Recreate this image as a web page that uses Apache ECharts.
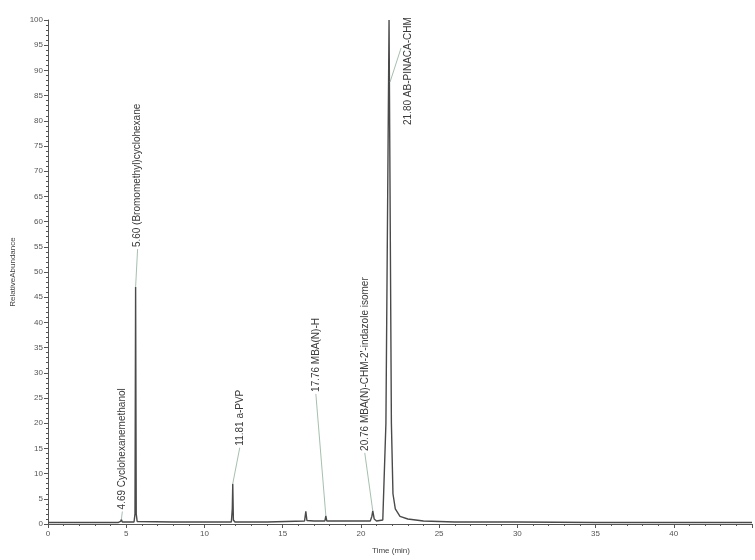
<!DOCTYPE html>
<html>
<head>
<meta charset="utf-8">
<script src="https://cdn.jsdelivr.net/npm/echarts@6/dist/echarts.min.js"></script>
<style>
html,body{margin:0;padding:0;background:#fff;}
#chart{width:755px;height:560px;}
</style>
</head>
<body>
<div id="chart"></div>
<script>
// Chromatogram trace (time in min, relative abundance in %)
const timeMin = [0, 2.0, 4.5, 4.64, 4.69, 4.75, 5.5, 5.56, 5.60, 5.64, 5.70, 8.0, 10.2, 10.3, 10.4, 11.72, 11.78, 11.81, 11.85, 11.95, 14.0, 16.40, 16.48, 16.55, 17.0, 17.70, 17.76, 17.82, 19.0, 20.60, 20.70, 20.76, 20.85, 21.00, 21.40, 21.60, 21.80, 21.95, 22.05, 22.20, 22.50, 23.0, 24.0, 26.0, 30.0, 35.0, 40.0, 45.0];
const abundance = [0.3, 0.3, 0.3, 0.5, 0.9, 0.4, 0.4, 2.0, 47.0, 2.0, 0.5, 0.4, 0.4, 0.7, 0.4, 0.4, 3.0, 8.0, 0.8, 0.4, 0.4, 0.6, 2.5, 0.7, 0.6, 0.6, 1.6, 0.6, 0.6, 0.6, 1.5, 2.6, 1.0, 0.6, 0.8, 20.0, 100.0, 20.0, 6.0, 3.0, 1.5, 1.0, 0.6, 0.4, 0.4, 0.3, 0.3, 0.3];

// Peak annotations
const peakTime = [4.69, 5.60, 11.81, 17.76, 20.76, 21.80];
const peakHeight = [0.9, 47.0, 8.0, 1.6, 2.6, 100.0];
const peakName = ['Cyclohexanemethanol', '(Bromomethyl)cyclohexane', 'a-PVP', 'MBA(N)-H', "MBA(N)-CHM-2'-indazole isomer", 'AB-PINACA-CHM'];

// Axis ticks
const xTicks = [0, 5, 10, 15, 20, 25, 30, 35, 40, 45];
const yTicks = [0, 5, 10, 15, 20, 25, 30, 35, 40, 45, 50, 55, 60, 65, 70, 75, 80, 85, 90, 95, 100];

// label placement (pixel offsets from the peak apex, layout only)
const labelShift = [[1, -10], [2, -40], [7, -38], [-10, -124], [-8, -60], [19, 105]];

const trace = timeMin.map((t, i) => [t, abundance[i]]);

const chart = echarts.init(document.getElementById('chart'), null, {renderer: 'canvas'});
const axisColor = '#555';
chart.setOption({
  animation: false,
  backgroundColor: '#fff',
  grid: {left: 48, top: 20, width: 713, height: 510, containLabel: false},
  xAxis: {
    type: 'value', min: xTicks[0], max: xTicks[xTicks.length - 1], interval: 5,
    name: 'Time (min)', nameLocation: 'middle', nameGap: 23,
    nameTextStyle: {color: '#444', fontSize: 8, fontFamily: 'Liberation Sans', padding: [0, 18, 0, 0]},
    axisLine: {lineStyle: {color: axisColor, width: 1}},
    axisTick: {length: 4, lineStyle: {color: axisColor}},
    minorTick: {show: true, splitNumber: 5, length: 2, lineStyle: {color: axisColor}},
    axisLabel: {color: '#555', fontSize: 8, fontFamily: 'Liberation Sans', margin: 6,
      formatter: v => (xTicks.indexOf(v) >= 0 && v < 45) ? String(v) : ''},
    splitLine: {show: false}
  },
  yAxis: {
    type: 'value', min: yTicks[0], max: yTicks[yTicks.length - 1], interval: 5,
    name: 'RelativeAbundance', nameLocation: 'middle', nameGap: 31, nameRotate: 90,
    nameTextStyle: {color: '#444', fontSize: 8, fontFamily: 'Liberation Sans'},
    axisLine: {show: true, lineStyle: {color: axisColor, width: 1}},
    axisTick: {show: true, length: 4, lineStyle: {color: axisColor}},
    minorTick: {show: true, splitNumber: 5, length: 2, lineStyle: {color: axisColor}},
    axisLabel: {color: '#555', fontSize: 8, fontFamily: 'Liberation Sans', margin: 5},
    splitLine: {show: false}
  },
  series: [
    {
      type: 'line', data: trace, showSymbol: false, symbol: 'none',
      lineStyle: {color: '#4a4a4a', width: 1.4}, z: 2
    }
  ]
});

// Peak labels with leader lines, positioned from the axis scales
const graphics = [];
peakTime.forEach((t, i) => {
  const p = chart.convertToPixel({seriesIndex: 0}, [t, peakHeight[i]]);
  const s = labelShift[i];
  const tx = p[0] + s[0], ty = p[1] + s[1];
  let lead;
  if (i === peakTime.length - 1) {
    lead = [[p[0] + 1, p[1] + 62], [p[0] + 12, p[1] + 28]];
  } else {
    lead = [[p[0], p[1]], [tx, ty + 2]];
  }
  graphics.push({
    type: 'polyline', silent: true, z: 10,
    shape: {points: lead},
    style: {stroke: '#8fae9a', lineWidth: 0.8, fill: null}
  });
  graphics.push({
    type: 'text', silent: true, z: 11,
    x: tx, y: ty, rotation: Math.PI / 2,
    style: {
      text: peakTime[i].toFixed(2) + ' ' + peakName[i],
      fill: '#3a3a3a', font: '10px "Liberation Sans"',
      textAlign: 'left', textVerticalAlign: 'middle'
    }
  });
});
chart.setOption({graphic: graphics});
</script>
</body>
</html>
